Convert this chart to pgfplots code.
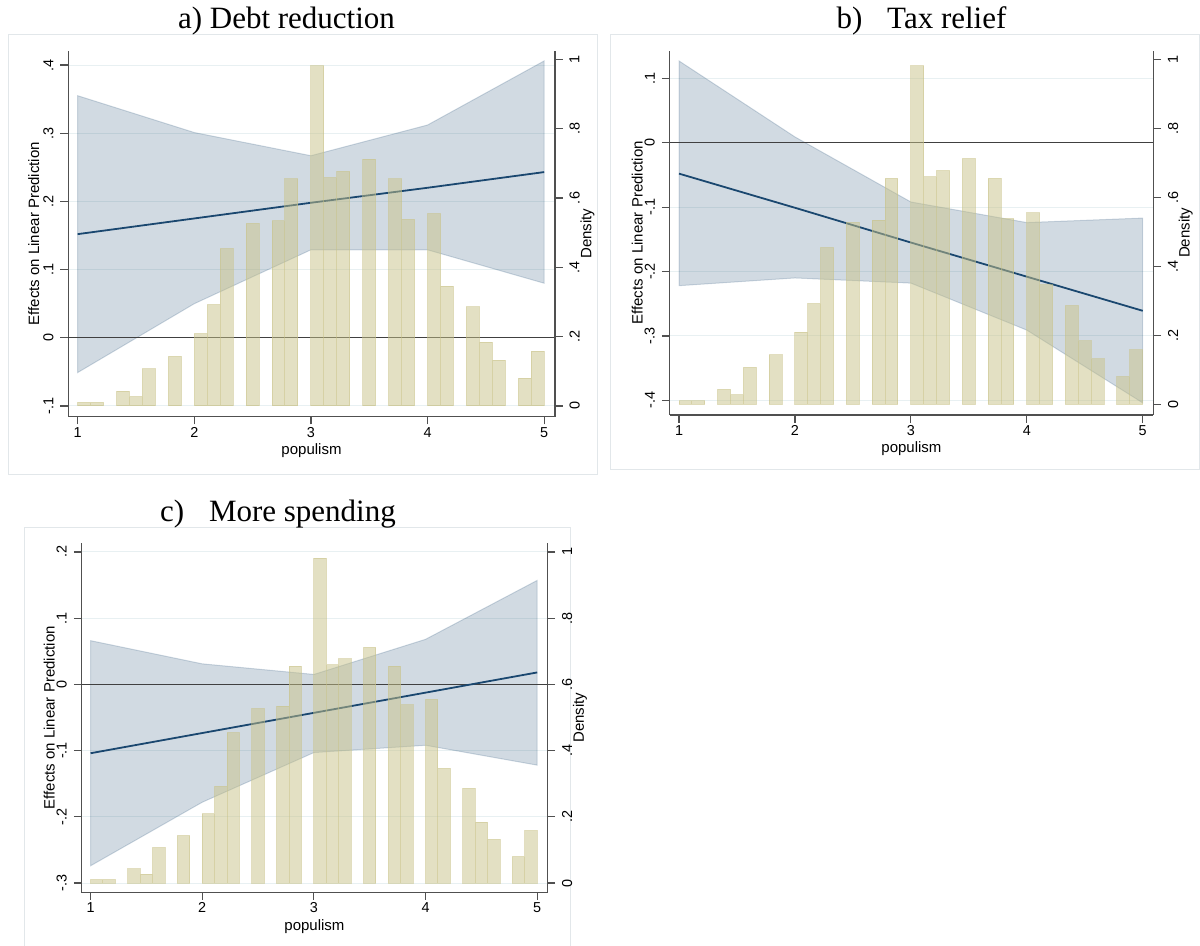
\documentclass[border=0pt]{standalone}
\usepackage{fontspec}
\setmainfont{Liberation Sans}
\newfontfamily\titlefont{Liberation Serif}
\usepackage{pgfplots}
\usepackage{pgfplotstable}
\pgfplotsset{compat=1.18}
\definecolor{navyc}{RGB}{26,71,111}
\definecolor{barc}{RGB}{200,194,136}
\definecolor{gridc}{RGB}{232,240,242}
\definecolor{framec}{RGB}{226,231,234}
\definecolor{axc}{RGB}{80,80,80}

\pgfplotstableread{
x d
1.0556 0.010
1.1667 0.010
1.3889 0.043
1.5000 0.027
1.6111 0.107
1.8333 0.143
2.0556 0.209
2.1667 0.292
2.2778 0.454
2.5000 0.527
2.7222 0.534
2.8333 0.655
3.0556 0.981
3.1667 0.659
3.2778 0.677
3.5000 0.712
3.7222 0.655
3.8333 0.538
4.0556 0.555
4.1667 0.346
4.3889 0.286
4.5000 0.184
4.6111 0.132
4.8333 0.080
4.9444 0.158
}\hist

\pgfplotstableread{
x y
1 0.355
2 0.301
3 0.267
4 0.312
5 0.406
5 0.080
4 0.129
3 0.129
2 0.050
1 -0.051
}\bandA
\pgfplotstableread{
x y
1 0.152
2 0.175
3 0.198
4 0.220
5 0.243
}\lineA

\pgfplotstableread{
x y
1 0.127
2 0.009
3 -0.092
4 -0.124
5 -0.117
5 -0.404
4 -0.291
3 -0.218
2 -0.210
1 -0.222
}\bandB
\pgfplotstableread{
x y
1 -0.048
2 -0.101
3 -0.155
4 -0.208
5 -0.261
}\lineB

\pgfplotstableread{
x y
1 0.066
2 0.031
3 0.015
4 0.068
5 0.157
5 -0.122
4 -0.092
3 -0.103
2 -0.178
1 -0.274
}\bandC
\pgfplotstableread{
x y
1 -0.104
2 -0.0735
3 -0.043
4 -0.0125
5 0.018
}\lineC

\pgfplotsset{
  common/.style={
    scale only axis,
    xmin=0.918, xmax=5.092,
    tick align=outside,
    major tick length=3.8pt,
    axis line style={axc, line width=0.6pt},
    tick style={axc, line width=0.6pt},
    tick label style={font=\fontsize{7.2}{8}\selectfont},
    label style={font=\fontsize{7.5}{9}\selectfont},
    /pgf/number format/assume math mode=true,
  },
  effax/.style={
    common,
    axis x line*=bottom, axis y line*=left,
    xtick={1,2,3,4,5}, xticklabels={1,2,3,4,5},
    xticklabel style={inner sep=1.2pt},
    ymajorgrids,
    grid style={gridc, line width=0.5pt},
    yticklabel style={rotate=90, anchor=south},
    xlabel={populism},
    ylabel={Effects on Linear Prediction},
  },
  denax/.style={
    common,
    axis x line=none, axis y line*=right,
    ymin=-0.031, ymax=1.025,
    ytick={0,0.2,0.4,0.6,0.8,1},
    yticklabels={0,.2,.4,.6,.8,1},
    yticklabel style={rotate=90, anchor=north},
    ylabel={Density},
  },
  bandsty/.style={fill=navyc, fill opacity=0.2, draw=navyc, draw opacity=0.2, line width=0.5pt},
  linesty/.style={navyc, line width=0.9pt},
  zerosty/.style={black!75, line width=0.65pt},
  barsty/.style={ybar, bar width=0.1111, fill=barc, draw=barc, opacity=0.5, line width=0.5pt},
}

\begin{document}
\begin{tikzpicture}
\useasboundingbox (0,0) rectangle (600pt,-473pt);

% frames
\draw[framec, line width=0.5pt] (4pt,-17.5pt) rectangle (298.5pt,-237.5pt);
\draw[framec, line width=0.5pt] (305pt,-17.5pt) rectangle (599.5pt,-235pt);
\draw[framec, line width=0.5pt] (12pt,-264pt) rectangle (285pt,-480pt);

% titles
\node[anchor=base, font=\titlefont\fontsize{15.5}{18}\selectfont] at (143.25pt,-14.15pt) {a) Debt reduction};
\node[anchor=base, font=\titlefont\fontsize{15.5}{18}\selectfont] at (460.75pt,-14.15pt) {b)\hspace{0.8em}Tax relief};
\node[anchor=base, font=\titlefont\fontsize{15.5}{18}\selectfont] at (139pt,-260.85pt) {c)\hspace{0.8em}More spending};

% ---------- Panel a ----------
\begin{axis}[effax, at={(34.05pt,-208.35pt)}, anchor=south west,
  width=243.4pt, height=183pt,
  ymin=-0.1157, ymax=0.421,
  ytick={-0.1,0,0.1,0.2,0.3,0.4}, yticklabels={-.1,0,.1,.2,.3,.4},
  y label style={at={(axis description cs:-0.0707,0.5)}, anchor=center},
  x label style={at={(axis description cs:0.5,-0.094)}, anchor=center}]
\addplot[bandsty] table[x=x,y=y]{\bandA} -- cycle;
\addplot[zerosty] coordinates {(0.918,0) (5.092,0)};
\addplot[linesty] table[x=x,y=y]{\lineA};
\end{axis}
\begin{axis}[denax, at={(34.05pt,-208.35pt)}, anchor=south west,
  width=243.4pt, height=183pt,
  y label style={at={(axis description cs:1.0668,0.5)}, anchor=center}]
\addplot[barsty] table[x=x,y=d]{\hist};
\end{axis}

% ---------- Panel b ----------
\begin{axis}[effax, at={(334.75pt,-207.5pt)}, anchor=south west,
  width=241.95pt, height=182.15pt,
  ymin=-0.4228, ymax=0.1429,
  ytick={-0.4,-0.3,-0.2,-0.1,0,0.1}, yticklabels={-.4,-.3,-.2,-.1,0,.1},
  y label style={at={(axis description cs:-0.0665,0.5)}, anchor=center},
  x label style={at={(axis description cs:0.5,-0.092)}, anchor=center}]
\addplot[bandsty] table[x=x,y=y]{\bandB} -- cycle;
\addplot[zerosty] coordinates {(0.918,0) (5.092,0)};
\addplot[linesty] table[x=x,y=y]{\lineB};
\end{axis}
\begin{axis}[denax, at={(334.75pt,-207.5pt)}, anchor=south west,
  width=241.95pt, height=182.15pt,
  y label style={at={(axis description cs:1.0666,0.5)}, anchor=center}]
\addplot[barsty] table[x=x,y=d]{\hist};
\end{axis}

% ---------- Panel c ----------
\begin{axis}[effax, at={(40.7pt,-446.15pt)}, anchor=south west,
  width=233.05pt, height=174.5pt,
  ymin=-0.314, ymax=0.213,
  ytick={-0.3,-0.2,-0.1,0,0.1,0.2}, yticklabels={-.3,-.2,-.1,0,.1,.2},
  y label style={at={(axis description cs:-0.069,0.5)}, anchor=center},
  x label style={at={(axis description cs:0.5,-0.097)}, anchor=center}]
\addplot[bandsty] table[x=x,y=y]{\bandC} -- cycle;
\addplot[zerosty] coordinates {(0.918,0) (5.092,0)};
\addplot[linesty] table[x=x,y=y]{\lineC};
\end{axis}
\begin{axis}[denax, at={(40.7pt,-446.15pt)}, anchor=south west,
  width=233.05pt, height=174.5pt,
  ymin=-0.028, ymax=1.026,
  y label style={at={(axis description cs:1.0697,0.5)}, anchor=center}]
\addplot[barsty] table[x=x,y=d]{\hist};
\end{axis}
\end{tikzpicture}
\end{document}
